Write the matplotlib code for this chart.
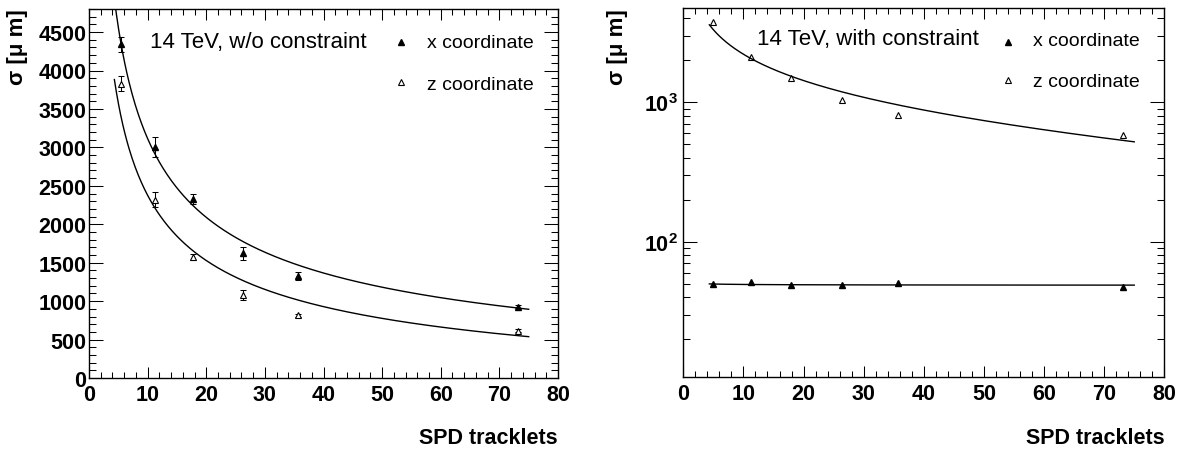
import numpy as np
import matplotlib
matplotlib.use("Agg")
import matplotlib.pyplot as plt
from matplotlib.ticker import (MultipleLocator, FixedLocator, FixedFormatter,
                               NullFormatter, LogLocator)

plt.rcParams["font.family"] = ["Liberation Sans", "DejaVu Sans"]
plt.rcParams["font.weight"] = "bold"
plt.rcParams["mathtext.fontset"] = "custom"
plt.rcParams["mathtext.bf"] = "Liberation Sans:bold"
plt.rcParams["mathtext.rm"] = "Liberation Sans:bold"

# ---- vertex resolution vs. SPD tracklets, 14 TeV ----
# without beam constraint
tracklets_free = [5.5, 11.3, 17.8, 26.3, 35.7, 73.1]
sigma_x_free = [4340, 3010, 2330, 1620, 1325, 928]
err_x_free = [95, 130, 65, 80, 50, 20]
sigma_z_free = [3830, 2320, 1575, 1080, 815, 616]
err_z_free = [98, 100, 35, 60, 20, 20]

# with beam constraint
tracklets_con = [4.9, 11.3, 17.9, 26.4, 35.7, 73.2]
sigma_x_con = [49.7, 51.1, 48.9, 48.9, 50.3, 47.3]
sigma_z_con = [3790, 2100, 1490, 1040, 815, 582]

# fit sigma(N) = p0 / sqrt(N) + p1
fit_x_free = [11059, -383]
fit_z_free = [9160, -520]
fit_x_con = [2.7, 48.5]
fit_z_con = [8433, -453]
fit_range = [4.33, 75.0]

x_ticks = [0, 10, 20, 30, 40, 50, 60, 70, 80]
y_ticks_lin = [0, 500, 1000, 1500, 2000, 2500, 3000, 3500, 4000, 4500]
y_ticks_log = [100, 1000]
y_ticklabels_log = [r"$\mathbf{10^{2}}$", r"$\mathbf{10^{3}}$"]

W, H = 1183, 452
fig = plt.figure(figsize=(W / 100, H / 100), dpi=100)


def px_axes(x0, top, x1, bottom):
    return fig.add_axes([x0 / W, 1 - bottom / H, (x1 - x0) / W, (bottom - top) / H])


ax1 = px_axes(89, 10, 558, 379)
ax2 = px_axes(683.3, 8.5, 1164.3, 378)

N = np.linspace(fit_range[0], fit_range[1], 400)


def fit_curve(p):
    return p[0] / np.sqrt(N) + p[1]


def style_axes(ax, ylen_major, ylen_minor):
    for s in ax.spines.values():
        s.set_linewidth(1.0)
    ax.tick_params(which="both", direction="in", top=True, right=True,
                   width=0.75, labelsize=15.5, colors="black")
    ax.tick_params(axis="x", which="major", length=7.7, pad=4)
    ax.tick_params(axis="x", which="minor", length=4.1)
    ax.tick_params(axis="y", which="major", length=ylen_major, pad=2)
    ax.tick_params(axis="y", which="minor", length=ylen_minor)
    ax.set_xlim(0, 80)
    ax.xaxis.set_major_locator(FixedLocator(x_ticks))
    ax.xaxis.set_minor_locator(MultipleLocator(2))


def legend_block(ax, title, tx, ty, mx, my_x, my_z, lx, ly_x, ly_z):
    ax.text(tx, ty, title, transform=ax.transAxes, fontsize=16,
            fontweight="normal", ha="left", va="baseline")
    ax.plot([mx], [my_x], transform=ax.transAxes, marker="^", ms=3.8,
            color="black", ls="none", clip_on=False)
    ax.plot([mx], [my_z], transform=ax.transAxes, marker="^", ms=3.8,
            mfc="white", mec="black", mew=0.8, ls="none", clip_on=False)
    ax.text(lx, ly_x, "x coordinate", transform=ax.transAxes, fontsize=14,
            fontweight="normal", ha="left", va="baseline")
    ax.text(lx, ly_z, "z coordinate", transform=ax.transAxes, fontsize=14,
            fontweight="normal", ha="left", va="baseline")


# ---- left: without constraint ----
style_axes(ax1, 10.3, 5.3)
ax1.set_ylim(0, 4800)
ax1.yaxis.set_major_locator(FixedLocator(y_ticks_lin))
ax1.yaxis.set_minor_locator(MultipleLocator(100))

ax1.errorbar(tracklets_free, sigma_x_free, yerr=err_x_free, fmt="none",
             ecolor="black", elinewidth=0.75, capsize=2.5, capthick=0.75, zorder=1)
ax1.errorbar(tracklets_free, sigma_z_free, yerr=err_z_free, fmt="none",
             ecolor="black", elinewidth=0.75, capsize=2.5, capthick=0.75, zorder=1)
ax1.plot(tracklets_free, sigma_x_free, ls="none", marker="^", ms=4.0,
         color="black", zorder=2)
ax1.plot(tracklets_free, sigma_z_free, ls="none", marker="^", ms=5.0,
         mfc="white", mec="black", mew=0.8, zorder=2)
ax1.plot(N, fit_curve(fit_x_free), color="black", lw=1.0, zorder=3)
ax1.plot(N, fit_curve(fit_z_free), color="black", lw=1.0, zorder=3)

legend_block(ax1, "14 TeV, w/o constraint", 0.130, 0.897,
             0.665, 0.911, 0.801, 0.721, 0.897, 0.783)

# ---- right: with constraint ----
style_axes(ax2, 10.3, 5.3)
ax2.set_yscale("log")
ax2.set_ylim(10.7, 4790)
ax2.yaxis.set_major_locator(FixedLocator(y_ticks_log))
ax2.yaxis.set_major_formatter(FixedFormatter(y_ticklabels_log))
ax2.yaxis.set_minor_locator(LogLocator(base=10, subs=range(2, 10)))
ax2.yaxis.set_minor_formatter(NullFormatter())
ax2.tick_params(axis="y", which="major", pad=4)

ax2.plot(tracklets_con, sigma_x_con, ls="none", marker="^", ms=4.0,
         color="black", zorder=2)
ax2.plot(tracklets_con, sigma_z_con, ls="none", marker="^", ms=5.0,
         mfc="white", mec="black", mew=0.8, zorder=2)
ax2.plot(N, fit_curve(fit_x_con), color="black", lw=1.0, zorder=3)
ax2.plot(N, fit_curve(fit_z_con), color="black", lw=1.0, zorder=3)

legend_block(ax2, "14 TeV, with constraint", 0.1526, 0.901,
             0.676, 0.907, 0.804, 0.728, 0.898, 0.787)

# ---- axis titles ----
for x_right in (557.7, 1165.0):
    fig.text(x_right / W, 1 - 444 / H, "SPD tracklets", fontsize=15.5,
             fontweight="bold", ha="right", va="baseline")
for x_mid in (17.0, 617.0):
    fig.text(x_mid / W, 1 - 9 / H, "σ [μ m]", fontsize=16,
             fontweight="bold", rotation=90, ha="center", va="top")

fig.savefig("out.png", dpi=100)
